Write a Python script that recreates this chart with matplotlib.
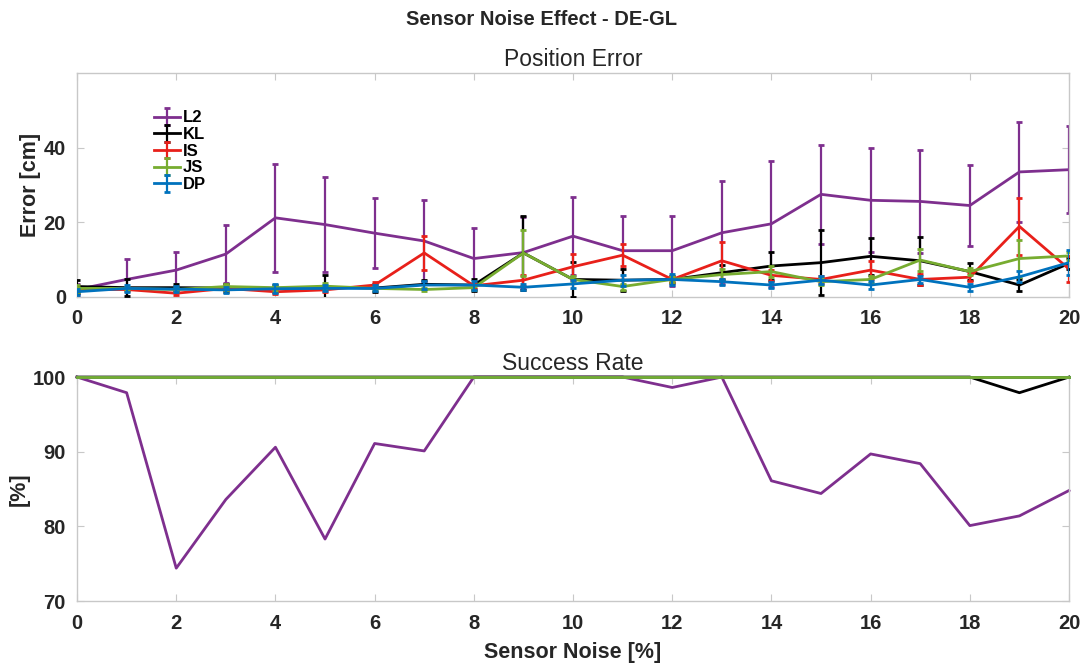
import matplotlib
matplotlib.use('Agg')
import matplotlib.pyplot as plt
import numpy as np

# ========== data ==========
noise = np.arange(0, 21)

err_l2 = [2.0, 4.7, 7.2, 11.5, 21.2, 19.4, 17.1, 15.0, 10.3, 11.9, 16.3,
          12.4, 12.4, 17.2, 19.6, 27.5, 25.9, 25.6, 24.5, 33.5, 34.1]
std_l2 = [1.5, 5.4, 4.9, 7.8, 14.4, 12.7, 9.3, 11.0, 8.2, 9.5, 10.5,
          9.2, 9.4, 13.8, 16.8, 13.3, 13.9, 13.9, 10.8, 13.4, 11.6]

err_kl = [2.8, 2.5, 2.5, 2.4, 2.3, 2.6, 2.4, 3.4, 3.2, 11.8, 4.7,
          4.5, 4.7, 6.5, 8.3, 9.2, 10.9, 9.7, 6.8, 3.2, 9.0]
std_kl = [1.7, 2.2, 1.0, 1.0, 1.0, 3.3, 1.0, 1.2, 1.5, 9.8, 4.7,
          3.0, 1.0, 2.0, 3.8, 8.8, 4.9, 6.4, 2.3, 1.5, 1.5]

err_is = [2.0, 2.0, 1.0, 2.3, 1.4, 1.9, 3.2, 11.8, 3.0, 4.5, 8.1,
          11.2, 4.7, 9.7, 5.8, 4.7, 7.2, 4.7, 5.3, 18.9, 7.5]
std_is = [0.5, 0.5, 0.5, 0.5, 0.5, 0.5, 0.8, 4.6, 0.8, 1.5, 3.5,
          2.9, 0.8, 4.9, 1.5, 1.0, 2.5, 1.5, 1.0, 7.7, 3.5]

err_js = [2.3, 2.3, 2.0, 2.8, 2.5, 2.9, 2.3, 2.0, 2.5, 11.8, 4.7,
          2.8, 4.7, 6.0, 6.8, 4.1, 4.7, 9.9, 6.8, 10.3, 11.0]
std_js = [1.0, 0.5, 0.5, 0.8, 0.8, 0.8, 0.5, 0.5, 0.5, 6.1, 1.0,
          0.8, 0.8, 1.5, 1.5, 1.0, 1.0, 3.0, 1.0, 4.9, 1.0]

err_dp = [1.4, 2.3, 2.1, 1.9, 2.2, 2.3, 2.3, 3.2, 3.2, 2.6, 3.5,
          4.5, 4.7, 4.1, 3.2, 4.5, 3.2, 4.7, 2.6, 5.4, 9.2]
std_dp = [0.8, 1.0, 0.8, 0.8, 1.2, 0.8, 0.8, 1.0, 1.2, 0.8, 1.0,
          1.5, 1.5, 0.8, 0.8, 1.0, 1.0, 1.0, 1.0, 1.5, 3.3]

succ_l2 = [100, 97.9, 74.4, 83.6, 90.6, 78.3, 91.1, 90.1, 100, 100, 100,
           100, 98.6, 100, 86.1, 84.4, 89.7, 88.4, 80.1, 81.4, 84.8]
succ_kl = [100] * 19 + [97.9, 100]
succ_is = [100] * 21
succ_js = [100] * 21
succ_dp = [100] * 21

labels = ['L2', 'KL', 'IS', 'JS', 'DP']
colors = ['#7E2F8E', '#000000', '#E8201A', '#77AC30', '#0072BD']

# ========== style ==========
FONT = ['Liberation Sans', 'DejaVu Sans']
BOX_C = '#c8c8c8'
TXT_C = '#262626'
LW = 2.0

plt.rcParams.update({
    'font.family': FONT,
    'font.size': 13,
    'axes.edgecolor': BOX_C,
    'axes.linewidth': 1.0,
    'xtick.direction': 'in',
    'ytick.direction': 'in',
    'xtick.top': True,
    'ytick.right': True,
    'xtick.color': BOX_C,
    'ytick.color': BOX_C,
    'xtick.labelcolor': TXT_C,
    'ytick.labelcolor': TXT_C,
    'xtick.labelsize': 14.5,
    'ytick.labelsize': 14.5,
    'xtick.major.size': 5,
    'ytick.major.size': 5,
    'xtick.major.pad': 9,
    'ytick.major.pad': 8,
})

fig = plt.figure(figsize=(10.82, 6.71), dpi=100)
ax1 = fig.add_axes([0.0712, 0.5574, 0.9168, 0.3338])
ax2 = fig.add_axes([0.0712, 0.1043, 0.9168, 0.3338])

# ---- position error ----
means = [err_l2, err_kl, err_is, err_js, err_dp]
stds = [std_l2, std_kl, std_is, std_js, std_dp]
for i, (m, s) in enumerate(zip(means, stds)):
    ax1.errorbar(noise, m, yerr=s, color=colors[i], lw=LW, elinewidth=1.6,
                 capsize=2, capthick=2, label=labels[i], zorder=2 + i)

ax1.set_xlim(0, 20)
ax1.set_ylim(0, 60)
ax1.set_xticks(np.arange(0, 21, 2))
ax1.set_yticks([0, 20, 40])
ax1.set_title('Position Error', fontsize=16.5, color=TXT_C, pad=5)
ax1.set_ylabel('Error [cm]', fontsize=15.5, fontweight='bold', color=TXT_C, labelpad=2)
leg = ax1.legend(loc='upper left', bbox_to_anchor=(0.062, 0.9), frameon=False,
                 handlelength=1.6, handletextpad=0.15, labelspacing=0.1,
                 prop={'weight': 'bold', 'size': 12})

# ---- success rate ----
rates = [succ_l2, succ_kl, succ_is, succ_dp, succ_js]
rate_colors = [colors[0], colors[1], colors[2], colors[4], colors[3]]
for i, (r, c) in enumerate(zip(rates, rate_colors)):
    ax2.plot(noise, r, color=c, lw=LW, zorder=2 + i, clip_on=False)

ax2.set_xlim(0, 20)
ax2.set_ylim(70, 100)
ax2.set_xticks(np.arange(0, 21, 2))
ax2.set_yticks([70, 80, 90, 100])
ax2.set_title('Success Rate', fontsize=16.5, color=TXT_C, pad=5)
ax2.set_ylabel('[%]', fontsize=15.5, fontweight='bold', color=TXT_C, labelpad=2)
ax2.set_xlabel('Sensor Noise [%]', fontsize=15.5, fontweight='bold', color=TXT_C, labelpad=7)

for ax in (ax1, ax2):
    for lbl in ax.get_xticklabels() + ax.get_yticklabels():
        lbl.set_fontweight('bold')

fig.suptitle('Sensor Noise Effect - DE-GL', y=0.985, fontsize=14.5,
             fontweight='bold', color=TXT_C)

fig.savefig('out.png', dpi=100)
